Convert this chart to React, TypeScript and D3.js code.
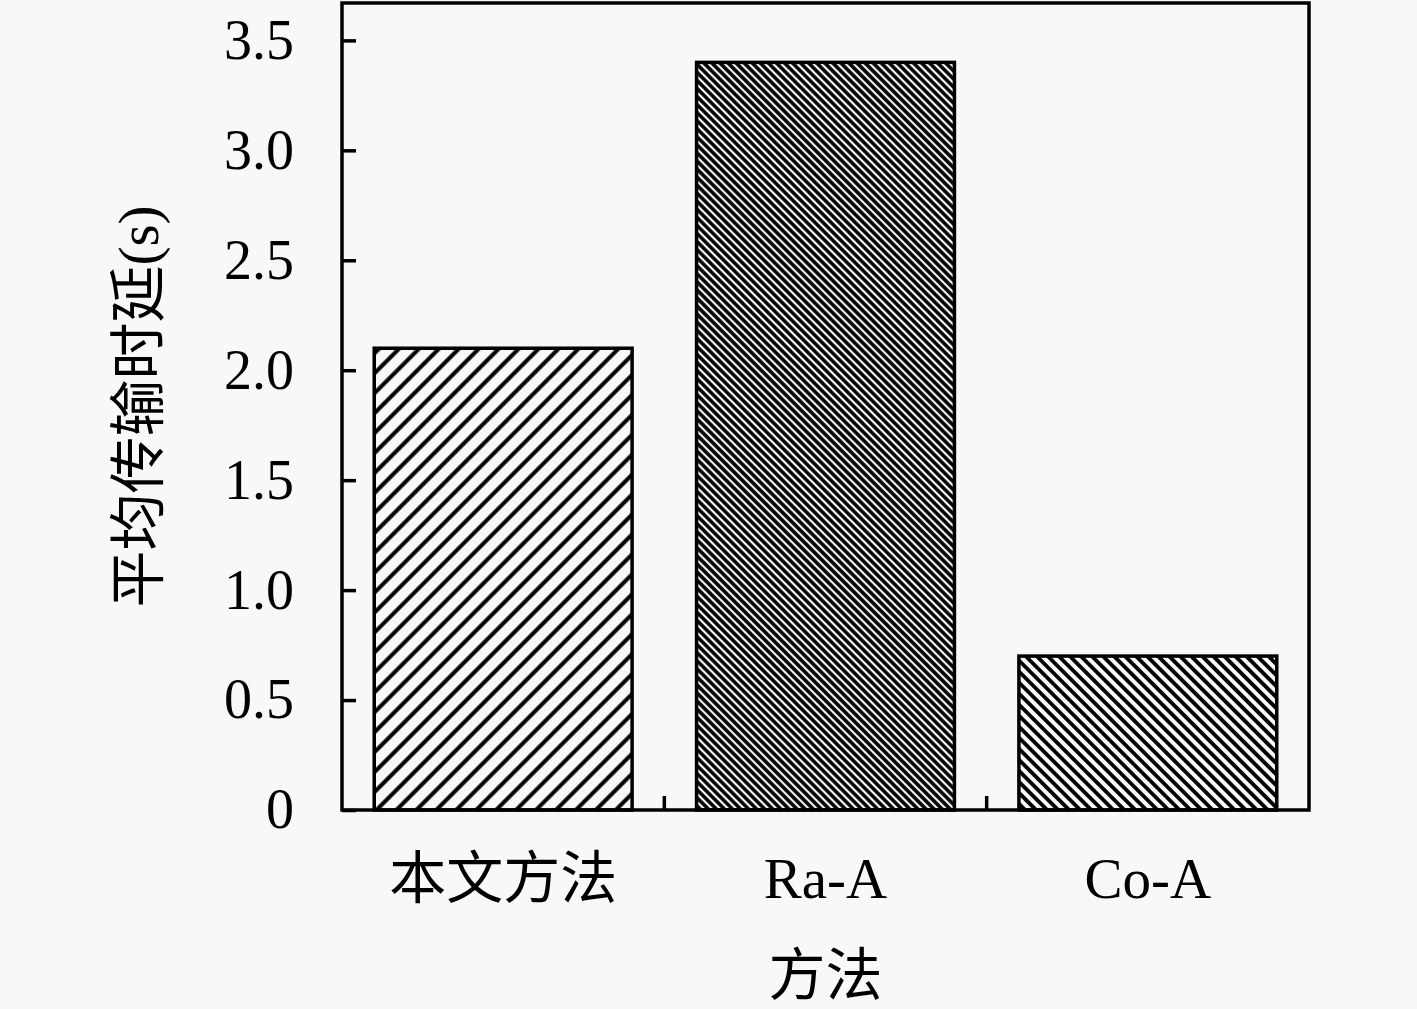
import React, { useEffect, useRef } from 'react';
import * as d3 from 'd3';

const categories = ['本文方法', 'Ra-A', 'Co-A'];
const delays = [2.1, 3.4, 0.7];
const yTicks = [0, 0.5, 1.0, 1.5, 2.0, 2.5, 3.0, 3.5];
const yLabel = '平均传输时延(s)';
const xLabel = '方法';

const App = () => {
  const svgRef = useRef(null);

  useEffect(() => {
    const width = 1417;
    const height = 1009;
    const margin = { left: 342, right: 108, top: 3, bottom: 199 };
    const bg = '#f8f8f8';
    const numFont = '"Liberation Serif", "DejaVu Serif", serif';
    const cjkFont = '"Liberation Serif", "Noto Sans CJK SC", serif';

    const svg = d3.select(svgRef.current);
    svg.selectAll('*').remove();
    svg.attr('width', width).attr('height', height);

    svg.append('rect').attr('width', width).attr('height', height).attr('fill', bg);

    // hatch patterns
    const defs = svg.append('defs');
    const hatches = [
      { id: 'h0', gap: 14.1, angle: 45, sw: 4 },
      { id: 'h1', gap: 5.7, angle: -45, sw: 3.5 },
      { id: 'h2', gap: 7.8, angle: -45, sw: 3.8 },
    ];
    hatches.forEach((h) => {
      const p = defs.append('pattern')
        .attr('id', h.id)
        .attr('patternUnits', 'userSpaceOnUse')
        .attr('width', h.gap)
        .attr('height', h.gap)
        .attr('patternTransform', `rotate(${h.angle})`);
      p.append('rect').attr('width', h.gap).attr('height', h.gap).attr('fill', bg);
      p.append('line')
        .attr('x1', h.gap / 2).attr('x2', h.gap / 2)
        .attr('y1', 0).attr('y2', h.gap)
        .attr('stroke', '#000').attr('stroke-width', h.sw);
    });

    const x = d3.scaleBand()
      .domain(categories)
      .range([margin.left, width - margin.right])
      .paddingInner(0.2)
      .paddingOuter(0.1);

    const y = d3.scaleLinear()
      .domain([0, 3.67])
      .range([height - margin.bottom, margin.top]);

    // bars
    svg.append('g')
      .selectAll('rect')
      .data(delays)
      .enter()
      .append('rect')
      .attr('x', (d, i) => x(categories[i]))
      .attr('y', (d) => y(d))
      .attr('width', x.bandwidth())
      .attr('height', (d) => y(0) - y(d))
      .attr('fill', (d, i) => `url(#h${i})`)
      .attr('stroke', '#000')
      .attr('stroke-width', 3.5);

    // frame
    svg.append('rect')
      .attr('x', margin.left)
      .attr('y', margin.top)
      .attr('width', width - margin.left - margin.right)
      .attr('height', height - margin.top - margin.bottom)
      .attr('fill', 'none')
      .attr('stroke', '#000')
      .attr('stroke-width', 3.5);

    // y axis
    const yAxis = svg.append('g')
      .attr('transform', `translate(${margin.left},0)`)
      .call(
        d3.axisLeft(y)
          .tickValues(yTicks)
          .tickSize(-14)
          .tickPadding(48)
          .tickFormat((d: any) => (d === 0 ? '0' : d3.format('.1f')(d)))
      );
    yAxis.select('.domain').remove();
    yAxis.selectAll('line').attr('stroke', '#000').attr('stroke-width', 3.5);
    yAxis.selectAll('text')
      .attr('font-family', numFont)
      .attr('font-size', 56)
      .attr('fill', '#000');

    // x axis ticks between bars
    const bandStep = x.step();
    const boundaries = categories.slice(1).map((c) => (x(c) as number) - (bandStep - x.bandwidth()) / 2);
    svg.append('g')
      .selectAll('line')
      .data(boundaries)
      .enter()
      .append('line')
      .attr('x1', (d) => d).attr('x2', (d) => d)
      .attr('y1', y(0)).attr('y2', y(0) - 14)
      .attr('stroke', '#000').attr('stroke-width', 3.5);

    // category labels
    svg.append('g')
      .selectAll('text')
      .data(categories)
      .enter()
      .append('text')
      .attr('x', (d) => (x(d) as number) + x.bandwidth() / 2)
      .attr('y', 898)
      .attr('text-anchor', 'middle')
      .attr('font-family', cjkFont)
      .attr('font-size', 57)
      .attr('fill', '#000')
      .text((d) => d);

    svg.append('text')
      .attr('x', (margin.left + width - margin.right) / 2)
      .attr('y', 995)
      .attr('text-anchor', 'middle')
      .attr('font-family', cjkFont)
      .attr('font-size', 57)
      .attr('fill', '#000')
      .text(xLabel);

    svg.append('text')
      .attr('transform', `translate(158, ${(margin.top + height - margin.bottom) / 2}) rotate(-90)`)
      .attr('text-anchor', 'middle')
      .attr('font-family', cjkFont)
      .attr('font-size', 57)
      .attr('fill', '#000')
      .text(yLabel);
  }, []);

  return <svg ref={svgRef} style={{ position: 'absolute', left: 0, top: 0, display: 'block' }}></svg>;
};

export default App;
